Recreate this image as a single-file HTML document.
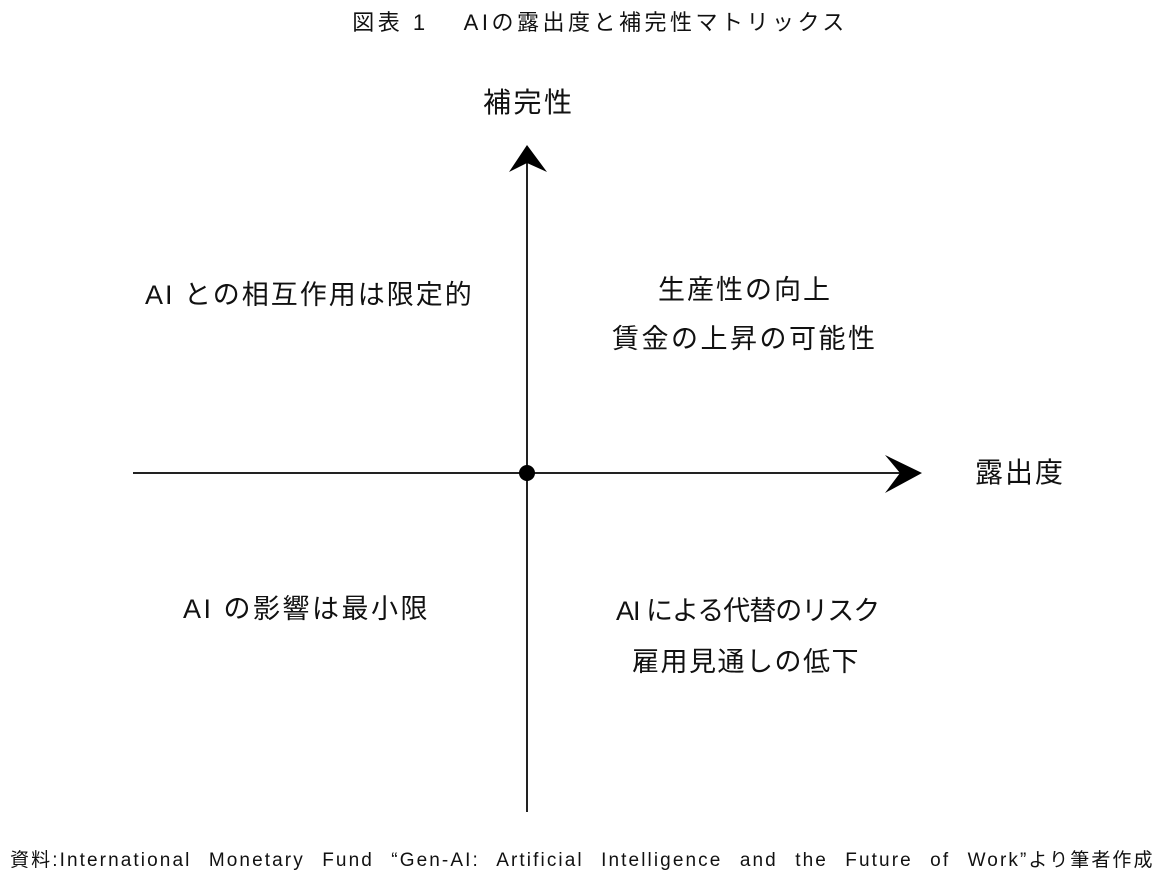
<!DOCTYPE html>
<html><head><meta charset="utf-8"><style>
body{margin:0;width:1173px;height:885px;background:#fff;position:relative;overflow:hidden;font-family:"Liberation Sans","Noto Sans CJK JP",sans-serif;color:#111}
.t{position:absolute;white-space:nowrap;line-height:1}
</style></head><body>
<div class="t" style="left:0;width:1200px;text-align:center;top:12px;font-size:22px;letter-spacing:3.5px">図表 1　 AIの露出度と補完性マトリックス</div>
<div class="t" style="left:483px;top:89px;font-size:28px;letter-spacing:2.5px">補完性</div>
<div class="t" style="left:145px;top:282px;font-size:27px;letter-spacing:2px">AI との相互作用は限定的</div>
<div class="t" style="left:612px;top:277px;width:266px;text-align:center;font-size:27px;letter-spacing:2px">生産性の向上</div>
<div class="t" style="left:612px;top:326px;font-size:27px;letter-spacing:2.5px">賃金の上昇の可能性</div>
<div class="t" style="left:975px;top:459px;font-size:28px;letter-spacing:2px">露出度</div>
<div class="t" style="left:183px;top:596px;font-size:27px;letter-spacing:2.5px">AI の影響は最小限</div>
<div class="t" style="left:616px;top:598px;font-size:27px;letter-spacing:-1px">AI による代替のリスク</div>
<div class="t" style="left:632px;top:649px;font-size:27px;letter-spacing:1.5px">雇用見通しの低下</div>
<div class="t" style="left:10px;top:851px;font-size:19px;word-spacing:10px;letter-spacing:2.1px">資料:International Monetary Fund “Gen-AI: Artificial Intelligence and the Future of Work”より筆者作成</div>
<svg width="1173" height="885" style="position:absolute;left:0;top:0">
<line x1="527" y1="160" x2="527" y2="812" stroke="#222" stroke-width="2"/>
<line x1="133" y1="473" x2="905" y2="473" stroke="#222" stroke-width="2"/>
<polygon points="527,145 547,172 527,163 509,172" fill="#000"/>
<polygon points="922,473 885,455 900,473 885,493" fill="#000"/>
<circle cx="527" cy="473" r="8" fill="#000"/>
</svg>
</body></html>
